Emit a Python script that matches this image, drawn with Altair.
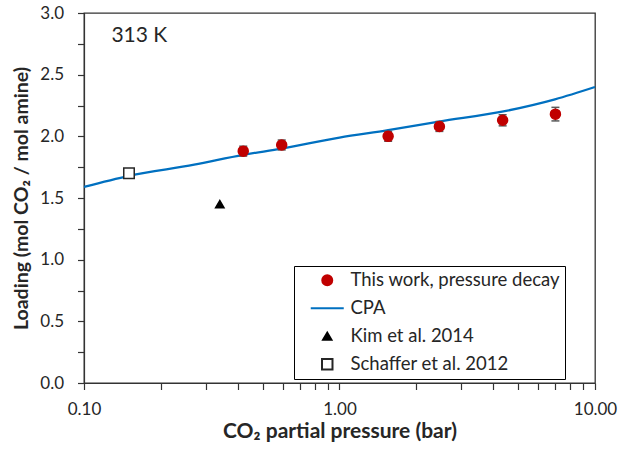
import altair as alt
import pandas as pd

SERIES = ["This work, pressure decay", "CPA", "Kim et al. 2014", "Schaffer et al. 2012"]

# This work, pressure decay (with error bars)
EXP_P = [0.42, 0.594, 1.55, 2.46, 4.35, 7.00]
EXP_L = [1.88, 1.93, 2.00, 2.08, 2.13, 2.18]
EXP_ERR = [0.04, 0.04, 0.04, 0.04, 0.045, 0.055]

# CPA model curve
CPA_P = [0.10, 0.15, 0.27, 0.42, 0.594, 1.0, 1.55, 2.45, 4.33, 6.97, 10.0]
CPA_L = [1.59, 1.68, 1.77, 1.85, 1.90, 1.99, 2.05, 2.12, 2.20, 2.30, 2.40]

# Literature
KIM_P = [0.34]
KIM_L = [1.45]
SCH_P = [0.15]
SCH_L = [1.70]

# Axis ticks
X_TICKS = [0.1, 0.2, 0.3, 0.4, 0.5, 0.6, 0.7, 0.8, 0.9,
           1, 2, 3, 4, 5, 6, 7, 8, 9, 10]
Y_TICKS = [0, 0.25, 0.5, 0.75, 1.0, 1.25, 1.5, 1.75, 2.0, 2.25, 2.5, 2.75, 3.0]

# Annotation
ANN_TEXT = ["313 K"]
ANN_X = [0.128]
ANN_Y = [2.81]

FONT = "Lato"
TXT = "#262626"
NBSP = "\u00a0" * 11

exp_df = pd.DataFrame({"p": EXP_P, "L": EXP_L,
                       "lo": [a - b for a, b in zip(EXP_L, EXP_ERR)],
                       "hi": [a + b for a, b in zip(EXP_L, EXP_ERR)],
                       "series": SERIES[0]})
cpa_df = pd.DataFrame({"p": CPA_P, "L": CPA_L, "series": SERIES[1]})
pts_df = pd.concat([
    exp_df[["p", "L", "series"]],
    pd.DataFrame({"p": KIM_P, "L": KIM_L, "series": SERIES[2]}),
    pd.DataFrame({"p": SCH_P, "L": SCH_L, "series": SERIES[3]}),
], ignore_index=True)
ann_df = pd.DataFrame({"p": ANN_X, "L": ANN_Y, "t": ANN_TEXT})

x_scale = alt.Scale(type="log", domain=[0.1, 10], nice=False)
y_scale = alt.Scale(domain=[0, 3], nice=False)

stroke_scale = alt.Scale(domain=SERIES, range=["#C00000", "#0070C0", "#000000", "#262626"])
fill_scale = alt.Scale(domain=SERIES, range=["#C00000", "transparent", "#000000", "#ffffff"])
shape_scale = alt.Scale(domain=SERIES, range=["circle", "M-3,0H3", "triangle-up", "square"])
size_scale = alt.Scale(type="ordinal", domain=SERIES, range=[100, 121, 70, 110])

legend = alt.Legend(title=None, orient="none", legendX=210, legendY=253,
                    labelFont=FONT, labelFontSize=18.5, labelColor=TXT,
                    labelExpr="datum.label + '" + NBSP + "'",
                    strokeColor="#000000", fillColor="#ffffff",
                    padding=5, symbolOffset=19, rowPadding=9,
                    symbolStrokeWidth=2, labelOffset=14, labelLimit=500)

x_axis = alt.Axis(values=X_TICKS,
                  labelExpr="indexof([0.1, 1, 10], datum.value) >= 0 ? format(datum.value, '.2f') : ''",
                  title="CO₂ partial pressure (bar)", grid=False, labelFlush=False,
                  labelOverlap=False, tickSize=6.5, tickColor="#333333", tickWidth=1.2,
                  domainColor="#333333", domainWidth=1.2, labelFont=FONT, labelFontSize=17,
                  labelColor=TXT, titleFont=FONT, titleFontSize=21,
                  titleFontWeight="bold", titleColor=TXT, labelPadding=12,
                  titlePadding=3)
y_axis = alt.Axis(values=Y_TICKS,
                  labelExpr="datum.value % 0.5 == 0 ? format(datum.value, '.1f') : ''",
                  title="Loading (mol CO₂ / mol amine)", grid=False, labelFlush=False,
                  labelOverlap=False, tickSize=6.5, tickColor="#333333", tickWidth=1.2,
                  domainColor="#333333", domainWidth=1.2, labelFont=FONT, labelFontSize=17,
                  labelColor=TXT, titleFont=FONT, titleFontSize=19.5,
                  titleFontWeight="bold", titleColor=TXT, labelPadding=14,
                  titlePadding=8)


def X(field):
    return alt.X(field, scale=x_scale, axis=x_axis)


def Y(field):
    return alt.Y(field, scale=y_scale, axis=y_axis)


line = alt.Chart(cpa_df).mark_line(strokeWidth=2.25, interpolate="monotone").encode(
    x=X("p:Q"), y=Y("L:Q"),
    stroke=alt.Stroke("series:N", scale=stroke_scale, legend=legend),
)

err_rule = alt.Chart(exp_df).mark_rule(color="#595959", strokeWidth=1.5).encode(
    x=X("p:Q"), y=Y("lo:Q"), y2="hi:Q",
)
err_lo = alt.Chart(exp_df).mark_tick(orient="horizontal", size=8, thickness=1.5,
                                     color="#595959", opacity=1).encode(
    x=X("p:Q"), y=Y("lo:Q"),
)
err_hi = alt.Chart(exp_df).mark_tick(orient="horizontal", size=8, thickness=1.5,
                                     color="#595959", opacity=1).encode(
    x=X("p:Q"), y=Y("hi:Q"),
)

points = alt.Chart(pts_df).mark_point(filled=False, strokeWidth=1.5, opacity=1,
                                      fillOpacity=1).encode(
    x=X("p:Q"), y=Y("L:Q"),
    stroke=alt.Stroke("series:N", scale=stroke_scale, legend=legend),
    fill=alt.Fill("series:N", scale=fill_scale, legend=legend),
    shape=alt.Shape("series:N", scale=shape_scale, legend=legend),
    size=alt.Size("series:N", scale=size_scale, legend=legend),
)

ann = alt.Chart(ann_df).mark_text(align="left", baseline="middle", font=FONT,
                                  fontSize=21, color=TXT).encode(
    x=X("p:Q"), y=Y("L:Q"), text="t:N",
)

chart = alt.layer(line, err_rule, err_lo, err_hi, points, ann).properties(
    width=511, height=370,
    autosize=alt.AutoSizeParams(type="none"),
    padding={"left": 84, "top": 13, "right": 24, "bottom": 68},
    background="white",
).configure_view(stroke="#333333", strokeWidth=1.3)

chart.save("out.html", embed_options={"renderer": "svg", "actions": False})
